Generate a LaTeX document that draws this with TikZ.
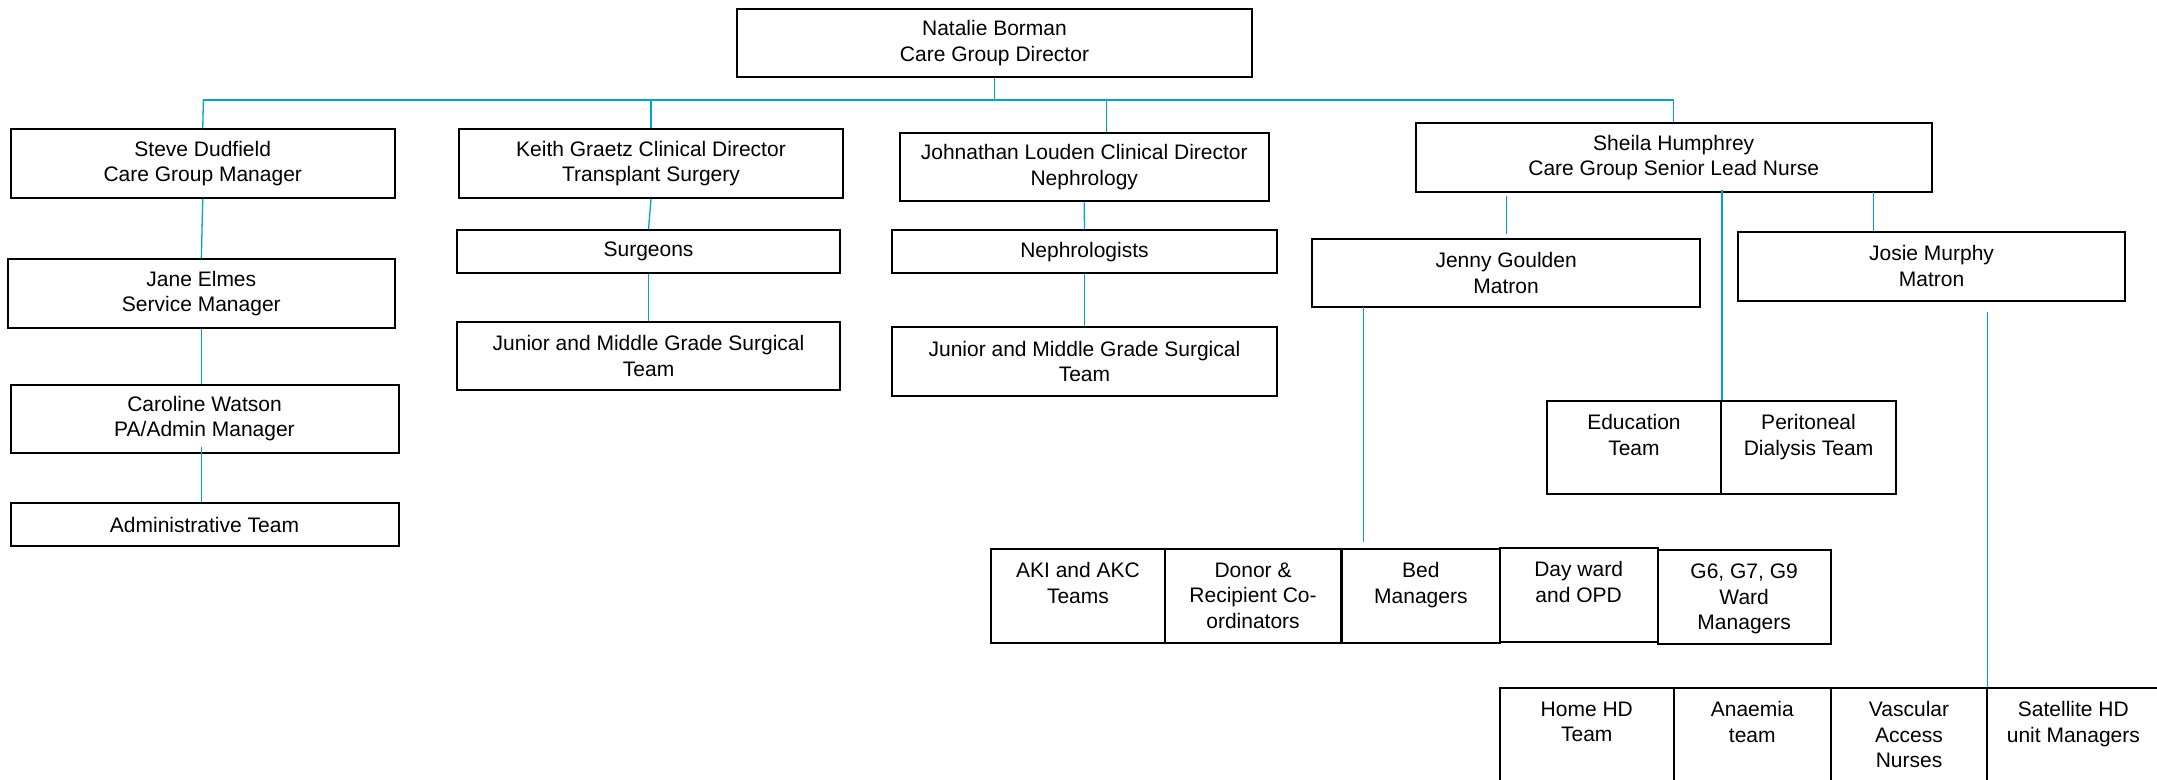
\documentclass[tikz,border=0pt]{standalone}
\usepackage{fontspec}
\setmainfont{Liberation Sans}
\usetikzlibrary{calc}
\definecolor{conn}{RGB}{0,166,200}
\newcommand\bx[6]{\node[box,minimum width={#3-#2},minimum height={#5-#4}] (#1) at ({(#2+#3)/2},{(#4+#5)/2}) {#6};}
\newcommand\tb[6]{\node[tbox,minimum width={#3-#2},minimum height={#5-#4}] (#1) at ({(#2+#3)/2},{(#4+#5)/2}) {};
  \node[txt] (#1-t) at ($(#1.north)+(0,14.5)$) {#6};}
\begin{document}
\begin{tikzpicture}[x=1pt,y=-1pt,
  box/.style={draw=black, line width=2pt, inner sep=0pt, align=center, font=\fontsize{21}{25.5}\selectfont},
  tbox/.style={draw=black, line width=2pt, inner sep=0pt},
  txt/.style={inner sep=0pt, align=center, anchor=north, font=\fontsize{21}{25.5}\selectfont},
  link/.style={draw=conn, line width=1.3pt},
  thinlink/.style={draw=conn, line width=0.9pt}]
\useasboundingbox (0,0) rectangle (2157,779);
\clip (0,0) rectangle (2157,779);
\fill[white] (0,0) rectangle (2157,779);

% level 0/1
\bx{nat}{736.6}{1252.4}{9}{77.3}{Natalie Borman\\Care Group Director}
\bx{steve}{10.5}{395}{129.3}{197.7}{Steve Dudfield\\Care Group Manager}
\bx{keith}{458.8}{843.2}{129.3}{197.7}{Keith Graetz Clinical Director\\Transplant Surgery}
\bx{john}{900}{1268.5}{133.3}{201.3}{Johnathan Louden Clinical Director\\Nephrology}
\bx{sheila}{1415.5}{1931.9}{123.3}{191.7}{Sheila Humphrey\\Care Group Senior Lead Nurse}

% left column
\bx{jane}{7.7}{395}{259.3}{327.7}{Jane Elmes\\Service Manager}
\bx{caroline}{10.5}{398.5}{384.7}{452.7}{Caroline Watson\\PA/Admin Manager}
\bx{admin}{10.5}{398.5}{503.3}{545.7}{Administrative Team}

% surgery / nephrology
\bx{surg}{456.7}{840.4}{230}{273.3}{Surgeons}
\bx{jsurg}{456.7}{840.4}{321.7}{390}{Junior and Middle Grade Surgical\\Team}
\bx{neph}{892.3}{1276.6}{230}{273.3}{Nephrologists}
\bx{jneph}{892.3}{1276.6}{327.3}{395.7}{Junior and Middle Grade Surgical\\Team}

% nursing
\bx{jenny}{1312.3}{1700}{238.7}{307}{Jenny Goulden\\Matron}
\bx{josie}{1737.7}{2125.3}{231.7}{300.7}{Josie Murphy\\Matron}
\tb{edu}{1547}{1720.9}{400.7}{494.3}{Education\\Team}
\tb{perit}{1720.9}{1896.1}{400.7}{494.3}{Peritoneal\\Dialysis Team}

\tb{aki}{990.5}{1165.4}{549}{642.7}{AKI and AKC\\Teams}
\tb{donor}{1165.4}{1340.7}{549}{642.7}{Donor \&\\Recipient Co-\\ordinators}
\tb{bed}{1342}{1499.8}{549}{642.7}{Bed\\Managers}
\tb{day}{1499.8}{1657.5}{548}{642}{Day ward\\and OPD}
\tb{gsix}{1657.5}{1830.8}{550.3}{644}{G6, G7, G9\\Ward\\Managers}

\tb{home}{1499.8}{1673.7}{688}{800}{Home HD\\Team}
\tb{anaemia}{1673.7}{1830.8}{688}{800}{Anaemia\\team}
\tb{vasc}{1830.8}{1987.2}{688}{800}{Vascular\\Access\\Nurses}
\tb{sat}{1987.2}{2159.5}{688}{800}{Satellite HD\\unit Managers}

% connectors
\coordinate (busl) at (203.4,100);
\coordinate (busr) at (1673.7,100);
\coordinate (jt) at (1106.7,100);
\draw[link] (nat.south) -- (nat.south |- busl);
\draw[link] (busl) -- (busr);
\draw[link] (busl) -- (steve.north);
\draw[link] (keith.north |- busl) -- (keith.north);
\draw[link] (jt) -- (jt |- john.north);
\draw[link] (busr) -- (sheila.north);

\draw[link] (steve.south) -- (jane.north);
\draw[link] (jane.south) -- (jane.south |- caroline.north);
\coordinate (ca) at ($(caroline.south)+(-3.2,-6.7)$);
\draw[link] (ca) -- (ca |- admin.north);

\draw[link] (keith.south) -- (surg.north);
\draw[link] (surg.south) -- (jsurg.north);
\draw[link] (john.south) -- (neph.north);
\draw[link] (neph.south) -- (jneph.north);

\draw[link] ($(jenny.north)+(0.3,-41.7)$) -- ($(jenny.north)+(0.3,-4)$);
\coordinate (se) at ($(edu.north east |- sheila.south)+(0,-2.4)$);
\draw[link] (se) -- (edu.north east);
\coordinate (sj) at (1873.2,191.7);
\draw[thinlink] (sj) -- (sj |- josie.north);
\coordinate (jb) at (1363.6,307);
\draw[link] (jb) -- ($(jb |- bed.north)+(0,-5.7)$);
\coordinate (js) at (1987.2,312);
\draw[link] (js) -- (js |- sat.north);
\end{tikzpicture}
\end{document}
